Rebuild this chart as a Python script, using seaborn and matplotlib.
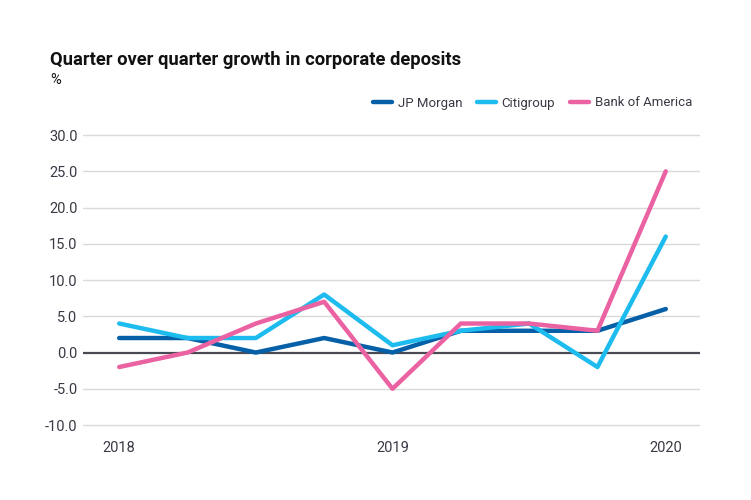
import matplotlib
matplotlib.use("Agg")
import matplotlib.pyplot as plt
import seaborn as sns
import pandas as pd
from matplotlib.lines import Line2D

quarters = ["2018Q1", "2018Q2", "2018Q3", "2018Q4", "2019Q1", "2019Q2", "2019Q3", "2019Q4", "2020Q1"]
jp_morgan = [2, 2, 0, 2, 0, 3, 3, 3, 6]
citigroup = [4, 2, 2, 8, 1, 3, 4, -2, 16]
bank_of_america = [-2, 0, 4, 7, -5, 4, 4, 3, 25]
series_names = ["JP Morgan", "Citigroup", "Bank of America"]
x_tick_labels = ["2018", "2019", "2020"]
y_ticks = [-10, -5, 0, 5, 10, 15, 20, 25, 30]

rows = []
for name, vals in zip(series_names, [jp_morgan, citigroup, bank_of_america]):
    for i, v in enumerate(vals):
        rows.append({"idx": i, "quarter": quarters[i], "value": v, "bank": name})
df = pd.DataFrame(rows)

sns.set_theme(style="white")
plt.rcParams["font.family"] = ["Roboto", "DejaVu Sans"]

palette = {"JP Morgan": "#0560A8", "Citigroup": "#1EBCEE", "Bank of America": "#EB62A2"}

fig = plt.figure(figsize=(7.51, 5.0), dpi=100)
ax = fig.add_axes([0.1105, 0.1456, 0.8215, 0.5887])

for y in y_ticks:
    if y == 0:
        ax.axhline(0, color="#4a4a55", lw=1.6, zorder=1)
    else:
        ax.axhline(y, color="#d9d9d9", lw=1.0, zorder=0)

sns.lineplot(data=df, x="idx", y="value", hue="bank", palette=palette,
             hue_order=series_names, lw=3.2, ax=ax, legend=False, zorder=3,
             solid_capstyle="round")

ax.set_xlim(-0.53, 8.5)
ax.set_ylim(-10.3, 30.3)
ax.set_yticks(y_ticks)
ax.set_yticklabels([f"{v:.1f}" for v in y_ticks])
ax.set_xticks([0, 4, 8])
ax.set_xticklabels(x_tick_labels)
ax.set_xlabel("")
ax.set_ylabel("")
for s in ax.spines.values():
    s.set_visible(False)
ax.tick_params(axis="both", length=0, labelsize=10.5, labelcolor="#3a3a46")
ax.tick_params(axis="y", pad=4)
ax.tick_params(axis="x", pad=10)

fig.text(50 / 751, 1 - 60 / 500, "Quarter over quarter growth in corporate deposits",
         fontsize=13.2, fontweight="bold", color="#111111", va="center")
fig.text(50 / 751, 1 - 80 / 500, "%", fontsize=10.5, color="#111111", va="center")

handles = [Line2D([0], [0], color=palette[n], lw=3.2, solid_capstyle="round") for n in series_names]
leg = fig.legend(handles, series_names, loc="center right", bbox_to_anchor=(704 / 751, 1 - 103 / 500),
                 ncol=3, frameon=False, fontsize=9.5, handlelength=1.5, handletextpad=0.4,
                 columnspacing=1.1)
for t in leg.get_texts():
    t.set_color("#3a3a46")

fig.savefig("out.png", dpi=100)
